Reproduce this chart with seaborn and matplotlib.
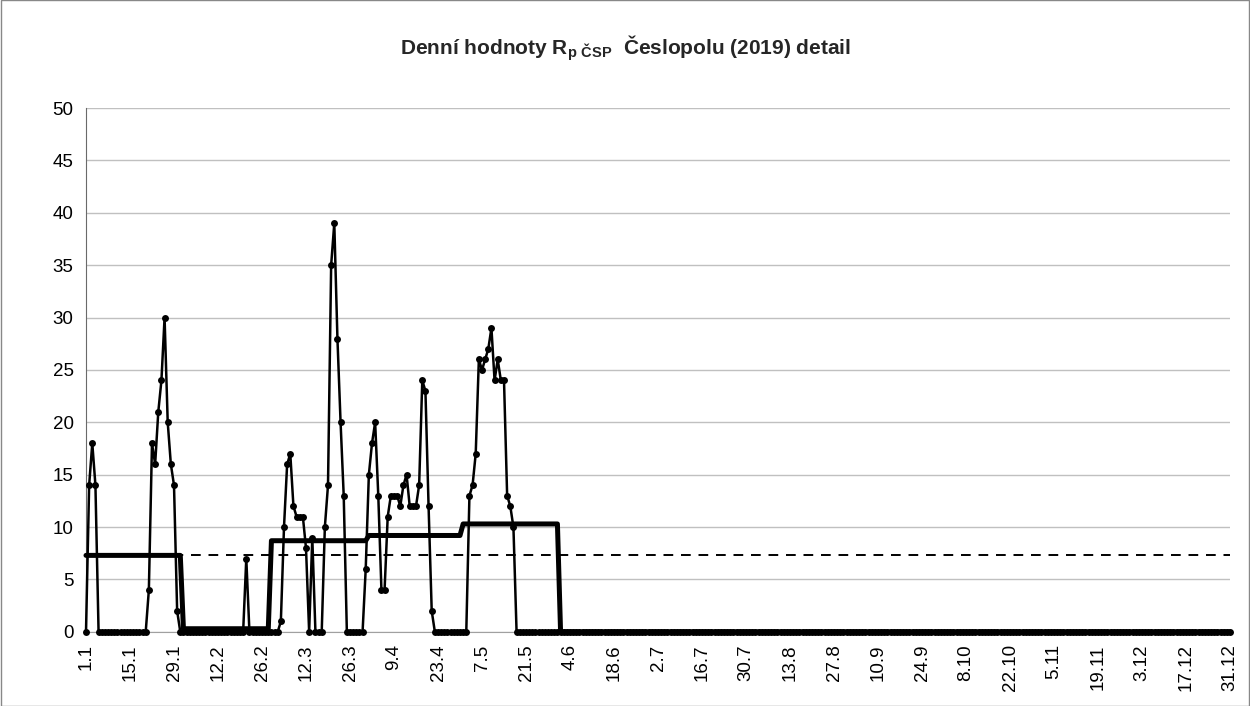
import numpy as np
import pandas as pd
import matplotlib
matplotlib.use("Agg")
import matplotlib.pyplot as plt
from matplotlib.patches import Rectangle
import seaborn as sns

# denni hodnoty Rp CSP (2019)
jan = [0, 14, 18, 14, 0, 0, 0, 0, 0, 0,
       0, 0, 0, 0, 0, 0, 0, 0, 0, 0,
       4, 18, 16, 21, 24, 30, 20, 16, 14, 2,
       0]
feb = [0, 0, 0, 0, 0, 0, 0, 0, 0, 0,
       0, 0, 0, 0, 0, 0, 0, 0, 0, 0,
       7, 0, 0, 0, 0, 0, 0, 0]
mar = [0, 0, 0, 1, 10, 16, 17, 12, 11, 11,
       11, 8, 0, 9, 0, 0, 0, 10, 14, 35,
       39, 28, 20, 13, 0, 0, 0, 0, 0, 0,
       6]
apr = [15, 18, 20, 13, 4, 4, 11, 13, 13, 13,
       12, 14, 15, 12, 12, 12, 14, 24, 23, 12,
       2, 0, 0, 0, 0, 0, 0, 0, 0, 0]
may = [0, 0, 13, 14, 17, 26, 25, 26, 27, 29,
       24, 26, 24, 24, 13, 12, 10, 0, 0, 0,
       0, 0, 0, 0, 0, 0, 0, 0, 0, 0,
       0]
# cerven - prosinec: vsechny dny 0
jun = [0] * 30
jul = [0] * 31
aug = [0] * 31
sep = [0] * 30
okt = [0] * 31
nov = [0] * 30
dec = [0] * 31

months = [jan, feb, mar, apr, may, jun, jul, aug, sep, okt, nov, dec]
month_means = [7.3, 0.3, 8.7, 9.2, 10.3, 0, 0, 0, 0, 0, 0, 0]
year_mean = 7.3

tick_labels = ["1.1", "15.1", "29.1", "12.2", "26.2", "12.3", "26.3", "9.4",
               "23.4", "7.5", "21.5", "4.6", "18.6", "2.7", "16.7", "30.7",
               "13.8", "27.8", "10.9", "24.9", "8.10", "22.10", "5.11",
               "19.11", "3.12", "17.12", "31.12"]

values = [v for m in months for v in m]
monthly = [mean for m, mean in zip(months, month_means) for _ in m]
df = pd.DataFrame({"den": np.arange(len(values)), "Rp": values,
                   "mesic": monthly, "rok": year_mean})

sns.set_style("white")
plt.rcParams["font.family"] = ["Liberation Sans", "DejaVu Sans"]
plt.rcParams["mathtext.fontset"] = "custom"
plt.rcParams["mathtext.rm"] = "Liberation Sans"
plt.rcParams["mathtext.bf"] = "Liberation Sans:bold"

fig = plt.figure(figsize=(12.5, 7.06), dpi=100)
ax = fig.add_axes([0.0688, 0.105, 0.9152, 0.742])

sns.lineplot(data=df, x="den", y="Rp", ax=ax, color="black", lw=1.8,
             marker="o", markersize=5, markeredgewidth=0, estimator=None,
             clip_on=False, zorder=3)
sns.lineplot(data=df, x="den", y="rok", ax=ax, color="black", lw=1.4,
             linestyle=(0, (5, 4)), estimator=None, zorder=2)
sns.lineplot(data=df, x="den", y="mesic", ax=ax, color="black", lw=3.6,
             estimator=None, clip_on=False, zorder=4)

ax.set_xlim(0, len(values) - 1)
ax.set_ylim(0, 50)
ax.set_yticks(np.arange(0, 51, 5))
ax.set_xticks(np.arange(0, len(values), 14))
ax.set_xticklabels(tick_labels, rotation=90)
ax.tick_params(axis="both", labelsize=13.5, colors="black")
ax.tick_params(axis="y", direction="out", length=5, width=1, color="#808080", pad=4)
ax.tick_params(axis="x", direction="out", length=5, width=1, color="#b0b0b0", pad=4)
ax.yaxis.grid(True, color="#c0c0c0", lw=1)
ax.xaxis.grid(False)
ax.set_xlabel("")
ax.set_ylabel("")
for s in ["top", "right"]:
    ax.spines[s].set_visible(False)
ax.spines["left"].set_color("#6a6a6a")
ax.spines["bottom"].set_color("#a0a0a0")

fig.text(0.5, 1 - 48 / 706,
         r"Denní hodnoty $\mathbf{R_{p\ ČSP}}$  Česlopolu (2019) detail",
         ha="center", va="center", fontsize=15, fontweight="bold")

fig.patches.append(Rectangle((0.0005, 0.0005), 0.999, 0.999, transform=fig.transFigure,
                             fill=False, edgecolor="#888888", lw=1))

fig.savefig("out.png", dpi=100)
